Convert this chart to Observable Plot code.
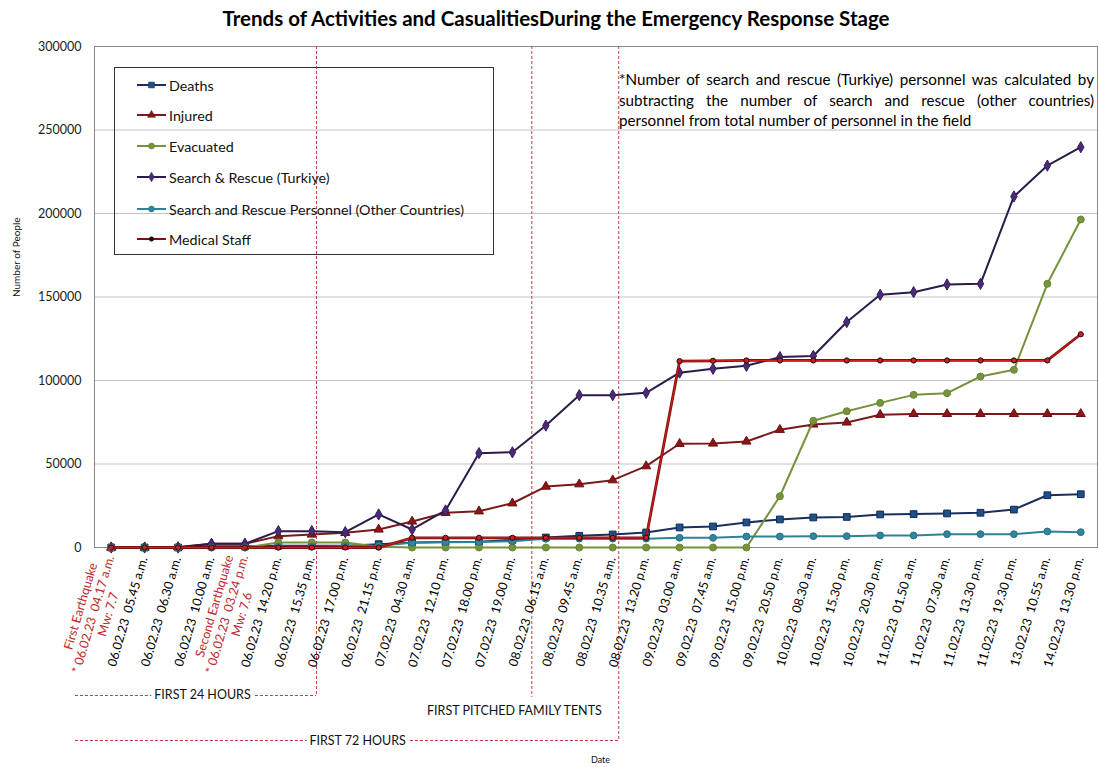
<!DOCTYPE html>
<html><head><meta charset="utf-8">
<script src="https://cdn.jsdelivr.net/npm/d3@7"></script>
<script src="https://cdn.jsdelivr.net/npm/@observablehq/plot@0.6"></script>
<style>
body{margin:0;background:#fff;font-family:Lato,"Open Sans",sans-serif;}
#wrap{position:relative;width:1099px;height:767px;overflow:hidden;background:#fff;}
#title{position:absolute;left:0;top:7px;width:1112px;text-align:center;font-weight:bold;font-size:20.5px;line-height:22px;color:#000;}
#chart{position:absolute;left:0;top:30px;}
#legend{position:absolute;left:114px;top:67px;width:380px;height:188px;border:1.3px solid #333;box-sizing:border-box;}
.lg{position:absolute;left:22px;height:20px;display:flex;align-items:center;font-size:14.3px;color:#111;white-space:nowrap;}
.lg svg{margin-right:2px;}
#note{position:absolute;left:619px;top:69px;width:475px;font-size:15.2px;line-height:20.5px;color:#000;}
.j{text-align:justify;text-align-last:justify;}
</style></head>
<body><div id="wrap">
<div id="title">Trends of Activities and CasualitiesDuring the Emergency Response Stage</div>
<div id="chart"></div>
<div id="legend"></div>
<div id="note"><div class="j">*Number of search and rescue (Turkiye) personnel was calculated by</div><div class="j">subtracting the number of search and rescue (other countries)</div><div>personnel from total number of personnel in the field</div></div>
</div>
<script>
// ---------- data ----------
const xLabels = [
  "First Earthquake\n* 06.02.23\u00a0 04.17 a.m. *\nMw: 7.7",
  "06.02.23\u00a0 05.45 a.m.",
  "06.02.23\u00a0 06.30 a.m.",
  "06.02.23\u00a0 10.00 a.m.",
  "Second Earthquake\n* 06.02.23\u00a0 03.24 p.m. *\nMw: 7.6",
  "06.02.23\u00a0 14.20 p.m.",
  "06.02.23\u00a0 15.35 p.m.",
  "06.02.23\u00a0 17.00 p.m.",
  "06.02.23\u00a0 21.15 p.m.",
  "07.02.23\u00a0 04.30 a.m.",
  "07.02.23\u00a0 12.10 p.m.",
  "07.02.23\u00a0 18.00 p.m.",
  "07.02.23\u00a0 19.00 p.m.",
  "08.02.23\u00a0 06.15 a.m.",
  "08.02.23\u00a0 09.45 a.m.",
  "08.02.23\u00a0 10.35 a.m.",
  "08.02.23\u00a0 13.20 p.m.",
  "09.02.23\u00a0 03.00 a.m.",
  "09.02.23\u00a0 07.45 a.m.",
  "09.02.23\u00a0 15.00 p.m.",
  "09.02.23\u00a0 20.50 p.m.",
  "10.02.23\u00a0 08.30 a.m.",
  "10.02.23\u00a0 15.30 p.m.",
  "10.02.23\u00a0 20.30 p.m.",
  "11.02.23\u00a0 01.50 a.m.",
  "11.02.23\u00a0 07.30 a.m.",
  "11.02.23\u00a0 13.30 p.m.",
  "11.02.23\u00a0 19.30 p.m.",
  "13.02.23\u00a0 10.55 a.m.",
  "14.02.23\u00a0 13.30 p.m."
];
const earthquakeIdx = [0, 4];

const seriesNames = ["Deaths", "Injured", "Evacuated", "Search & Rescue (Turkiye)",
  "Search and Rescue Personnel (Other Countries)", "Medical Staff"];

const deaths    = [0, 0, 0, 700, 700, 1000, 1000, 1000, 2000, 3000, 3300, 3500, 4500, 6000, 7000, 7800, 9000, 12000, 12600, 15000, 16800, 18000, 18300, 19800, 20000, 20400, 20800, 22700, 31300, 31900];
const injured   = [0, 0, 300, 2200, 2200, 6800, 7800, 8800, 10800, 15600, 20800, 21700, 26500, 36500, 37900, 40300, 48700, 62100, 62300, 63500, 70500, 73700, 74900, 79500, 80000, 80000, 80000, 80000, 80000, 80000];
const evacuated = [0, 0, 0, 0, 0, 3000, 3000, 3000, 500, 0, 0, 0, 0, 0, 0, 0, 0, 0, 0, 0, 30700, 75900, 81600, 86600, 91400, 92400, 102400, 106400, 157900, 196400];
const sarTurkiye= [0, 0, 0, 2200, 2200, 9800, 9800, 9200, 19800, 10800, 22200, 56500, 57000, 73000, 91200, 91200, 92600, 104700, 107000, 108800, 114000, 114700, 135000, 151300, 152900, 157500, 157900, 210200, 228700, 239700];
const sarOther  = [0, 0, 0, 0, 0, 500, 500, 800, 1000, 2800, 3200, 3300, 3800, 5200, 5300, 5300, 5300, 5800, 5800, 6600, 6600, 6800, 6800, 7200, 7200, 8000, 8000, 8000, 9600, 9200];
const medical   = [0, 0, 0, 0, 0, 0, 0, 0, 0, 5800, 5800, 5800, 5800, 5800, 5800, 5800, 5800, 111600, 111800, 112000, 112000, 112000, 112000, 112000, 112000, 112000, 112000, 112000, 112000, 127700];

const yTicks = [0, 50000, 100000, 150000, 200000, 250000, 300000];

// annotation phases (x in category-index units, y below the axis in value units)
const phaseLines = [
  {x: 6.14, bottom: -88620},
  {x: 12.58, bottom: -89800},
  {x: 15.18, bottom: -115570}
];
const phaseBrackets = [
  {y: -88620, x1: -1.07, x2: 6.14},
  {y: -115570, x1: -1.07, x2: 15.18}
];
const phaseTexts = [
  {x: 2.73, y: -88620, text: "FIRST 24 HOURS"},
  {x: 12.06, y: -98200, text: "FIRST PITCHED FAMILY TENTS"},
  {x: 7.37, y: -115570, text: "FIRST 72 HOURS"}
];

// ---------- styles ----------
const valuesList = [deaths, injured, evacuated, sarTurkiye, sarOther, medical];
const styles = [
  {line: "#1B2F5E", fill: "#1F5189", stroke: "#132A55", symbol: "square", r: 3.8, w: 2},
  {line: "#7A1A1B", fill: "#8B1518", stroke: "#6A1012", symbol: "triangle", r: 3.4, w: 2},
  {line: "#76923C", fill: "#77933C", stroke: "#6A8535", symbol: "circle", r: 3.5, w: 2},
  {line: "#2A1B48", fill: "#4B2B78", stroke: "#33205A", symbol: "diamond", r: 3.4, w: 2},
  {line: "#2F8399", fill: "#31869D", stroke: "#276F82", symbol: "circle", r: 3.4, w: 2},
  {line: "#7F0F10", fill: "#D81A1A", stroke: "#111", symbol: "circle", r: 2.6, w: 2}
];

const seriesData = valuesList.map(vals => vals.map((v, i) => ({i, v})));
const labelRows = xLabels.map((label, i) => ({i, label}));

const marks = [
  Plot.ruleY(yTicks.slice(1), {y: d => d, stroke: "#c4c4c4", strokeWidth: 1.2}),
  Plot.frame({stroke: "#888", strokeWidth: 1}),
  Plot.axisY(yTicks, {tickSize: 0, tickPadding: 13, fontSize: 12.5, tickFormat: d => String(d), label: null, fill: "#222"}),
  Plot.text(["Number of People"], {text: d => d, frameAnchor: "left", rotate: -90, dx: -78, fontSize: 10, fill: "#111"}),
  Plot.ruleX(phaseLines, {x: "x", y1: 300000, y2: "bottom", stroke: "#C8403C", strokeDasharray: "3,2", strokeWidth: 1}),
  Plot.ruleY(phaseBrackets, {y: "y", x1: "x1", x2: "x2", stroke: "#D03838", strokeDasharray: "3,2", strokeWidth: 1}),
  Plot.text(phaseTexts, {x: "x", y: "y", text: "text", fontSize: 12.5, fill: "#111", stroke: "white", strokeWidth: 8})
];

styles.forEach((s, k) => {
  const data = seriesData[k];
  if (k === 5) {
    marks.push(Plot.line(data, {x: "i", y: "v", stroke: s.line, strokeWidth: 2.8}));
    marks.push(Plot.line(data, {x: "i", y: "v", stroke: "#E3201E", strokeWidth: 0.9}));
  } else {
    marks.push(Plot.line(data, {x: "i", y: "v", stroke: s.line, strokeWidth: s.w}));
  }
  marks.push(Plot.dot(data, {x: "i", y: "v", symbol: s.symbol, r: s.r, fill: s.fill, stroke: s.stroke, strokeWidth: 1}));
});

marks.push(
  Plot.text(labelRows.filter(d => !earthquakeIdx.includes(d.i)), {
    x: "i", text: "label", frameAnchor: "bottom", rotate: -73.6, textAnchor: "end",
    dx: 3, dy: 11, fontSize: 12.5, fill: "#000"
  }),
  Plot.text(labelRows.filter(d => earthquakeIdx.includes(d.i)), {
    x: "i", text: "label", frameAnchor: "bottom", rotate: -73.6, textAnchor: "middle",
    lineHeight: 1.15, dx: 1, dy: 68, fontSize: 12.5, fill: "#C0282D"
  }),
  Plot.text(["Date"], {text: d => d, frameAnchor: "bottom", dx: 4.5, dy: 215, fontSize: 9, fill: "#111"})
);

const chart = Plot.plot({
  width: 1099,
  height: 737,
  marginTop: 16,
  marginBottom: 220,
  marginLeft: 94,
  marginRight: 2,
  x: {type: "linear", domain: [-0.5, 29.5], axis: null},
  y: {type: "linear", domain: [0, 300000]},
  style: {fontFamily: "Lato, 'Open Sans', sans-serif", overflow: "visible", background: "transparent"},
  marks
});
document.getElementById("chart").appendChild(chart);

// ---------- legend ----------
const legend = document.getElementById("legend");
const rowTops = [17, 47, 78, 109, 141, 171];
const symMap = {square: d3.symbolSquare, triangle: d3.symbolTriangle, circle: d3.symbolCircle, diamond: d3.symbolDiamond};
seriesNames.forEach((name, k) => {
  const s = styles[k];
  const row = document.createElement("div");
  row.className = "lg";
  row.style.top = (rowTops[k] - 10) + "px";
  const size = Math.PI * (s.r * 0.85) ** 2;
  const path = d3.symbol(symMap[s.symbol], size)();
  row.innerHTML = `<svg width="30" height="12" viewBox="0 0 30 12"><line x1="0" x2="29" y1="6" y2="6" stroke="${s.line}" stroke-width="2"/><path transform="translate(14.5,6)" d="${path}" fill="${k === 5 ? '#111' : s.fill}" stroke="${s.stroke}" stroke-width="0.6"/></svg><span>${name.replace(/&/g, "&amp;")}</span>`;
  legend.appendChild(row);
});
</script>
</body></html>
